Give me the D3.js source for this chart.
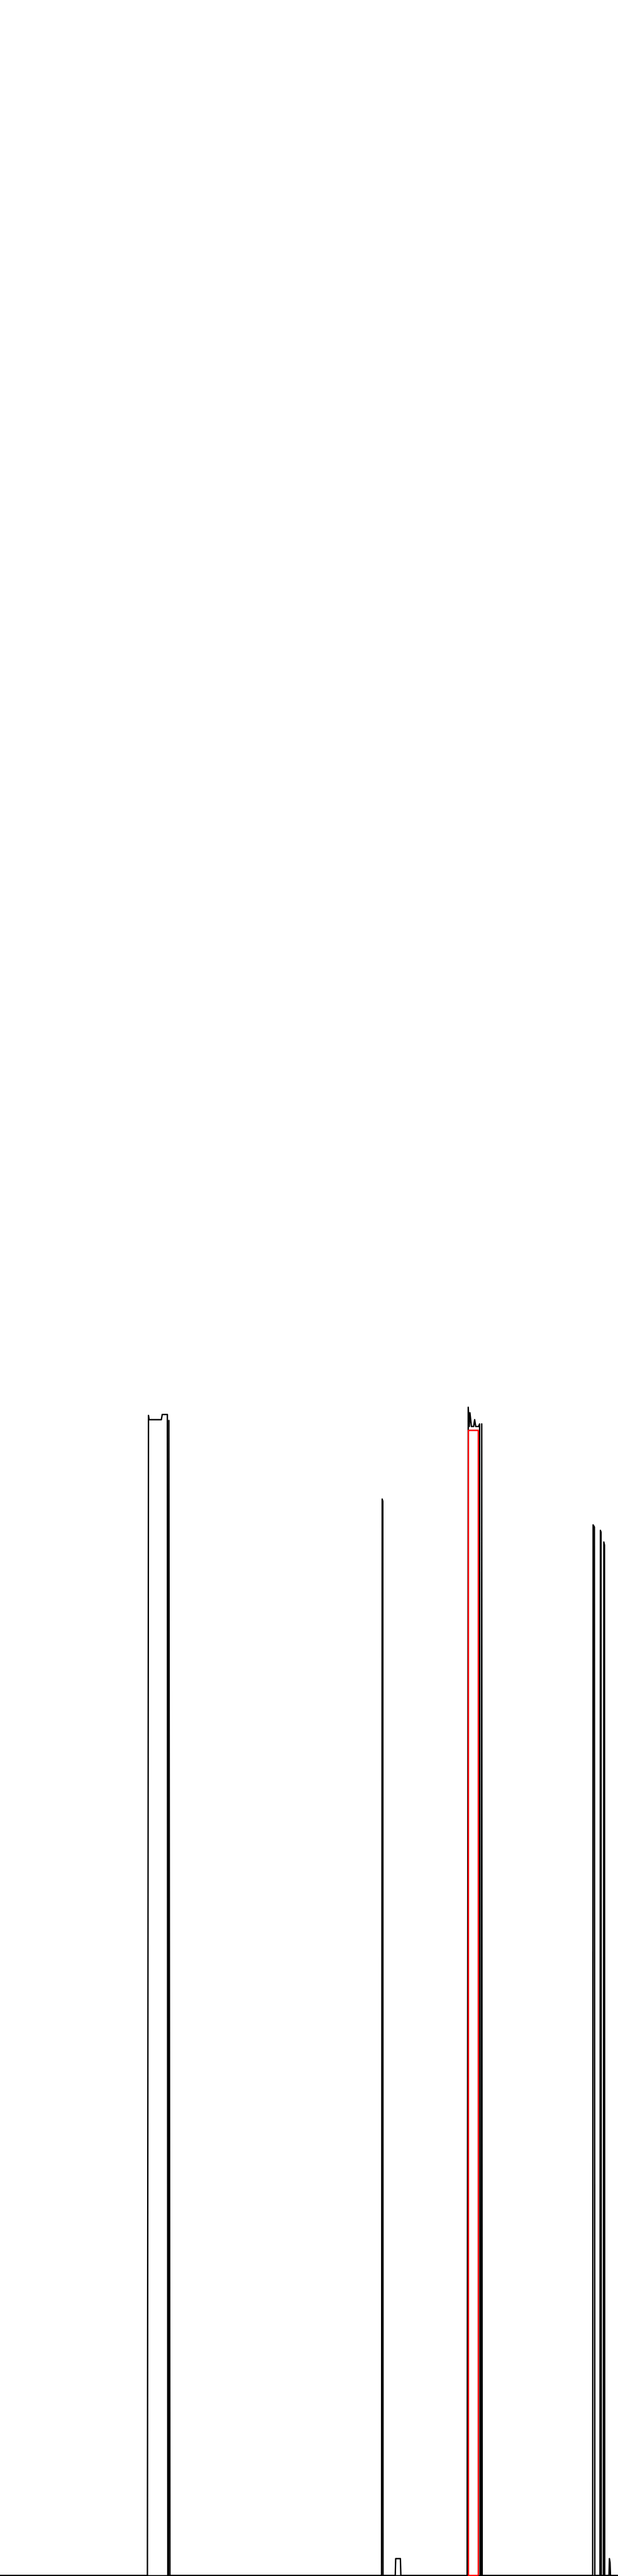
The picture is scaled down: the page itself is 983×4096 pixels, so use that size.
<!DOCTYPE html>
<html><head><meta charset="utf-8">
<script src="https://cdn.jsdelivr.net/npm/d3@7"></script>
<style>html,body{margin:0;padding:0;background:#fff;overflow:hidden}svg{display:block}</style>
</head><body><svg id="c"></svg>
<script>
// Series (x position on the horizontal axis, value above baseline)
const blackX = [0, 343.5, 346, 347.5, 376, 378, 390, 391, 392.5, 393.5, 396,
  889, 890.5, 892, 892.5,
  921, 922, 933, 934,
  1088.5, 1091, 1093.5, 1095, 1098.5, 1103.5, 1106, 1108.5, 1115, 1117.5, 1118.5, 1121, 1122.5, 1123.5,
  1381, 1382, 1385, 1386,
  1398, 1399, 1400.5, 1401,
  1406, 1407, 1408.5, 1409,
  1419, 1420, 1421.5, 1422.5,
  1440];
const blackY = [0, 0, 2702, 2692, 2692, 2704, 2704, 0, 0, 2690, 0,
  0, 2507, 2502, 0,
  0, 39, 39, 0,
  0, 2721, 2676, 2708, 2676, 2676, 2692, 2676, 2676, 2682, 0, 0, 2682, 0,
  0, 2447, 2442, 0,
  0, 2434, 2430, 0,
  0, 2407, 2400, 0,
  0, 39, 30, 0,
  0];
const redX = [1114.5, 1091.5, 1091.5, 1114.5, 1114.5];
const redY = [0, 0, 2667, 2667, 0];
const domainX = [0, 1440];
const domainY = [0, 6000];

const W = 983, H = 4096, k = W / 1440;
const baseline = H - 1.0;

const x = d3.scaleLinear().domain(domainX).range([0, W]);
const y = d3.scaleLinear().domain(domainY).range([baseline, baseline - 6000 * k]);

const svg = d3.select('#c').attr('width', W).attr('height', H);
svg.append('rect').attr('width', W).attr('height', H).attr('fill', '#ffffff');

// baseline axis (no ticks)
const axis = d3.axisBottom(x).tickValues([]).tickSizeOuter(0);
svg.append('g').attr('transform', `translate(0,${y(0)})`).call(axis)
  .select('.domain').attr('stroke', '#000').attr('stroke-width', 2.2);

const line = d3.line().x(d => x(d[0])).y(d => y(d[1])).curve(d3.curveLinear);

const blackData = blackX.map((v, i) => [v, blackY[i]]);
const redData = redX.map((v, i) => [v, redY[i]]);

svg.append('path').datum(blackData).attr('d', line)
  .attr('fill', 'none').attr('stroke', '#000').attr('stroke-width', 2.2)
  .attr('stroke-linejoin', 'round');
svg.append('path').datum(redData).attr('d', line)
  .attr('fill', 'none').attr('stroke', '#ff0000').attr('stroke-width', 2.2)
  .attr('stroke-linejoin', 'round');
</script>
</body></html>
